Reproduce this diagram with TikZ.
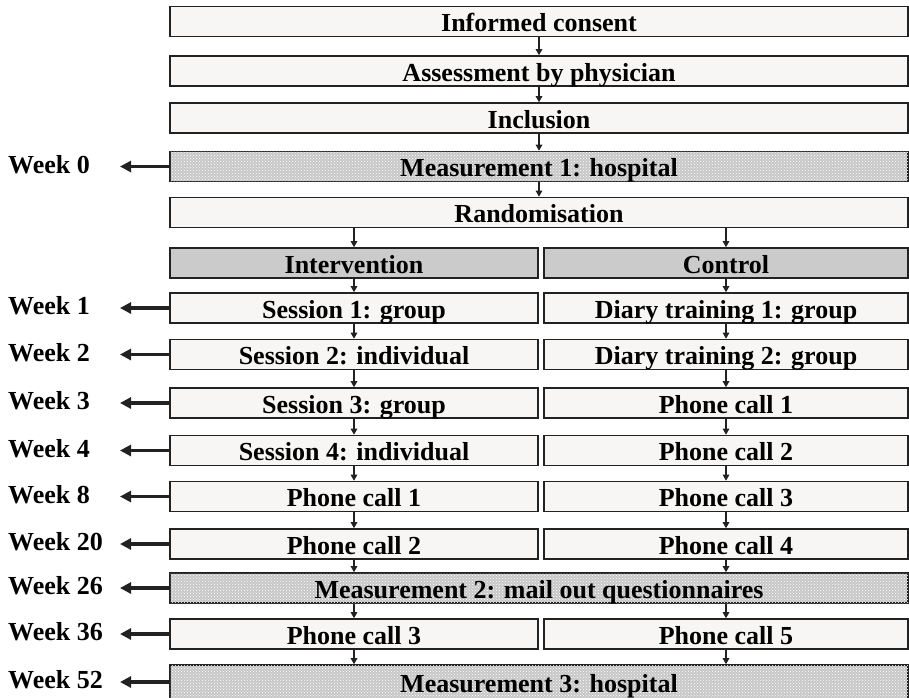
\documentclass[tikz,border=0pt]{standalone}
\usepackage{fontspec}
\setmainfont{Liberation Serif}
\usetikzlibrary{patterns,arrows.meta}
\definecolor{boxfill}{HTML}{F7F6F4}
\definecolor{headfill}{HTML}{CBCBCB}
\definecolor{edgecol}{HTML}{222222}
\begin{document}
\begin{tikzpicture}[x=1pt,y=-1pt,
  box/.style={draw=edgecol,line width=1.6pt,fill=boxfill,inner sep=0pt,
    minimum height=30pt,text height=20pt,text depth=0pt,
    font=\fontsize{26}{30}\selectfont\bfseries,text=black},
  full/.style={box,minimum width=738pt},
  lcol/.style={box,minimum width=368pt},
  rcol/.style={box,minimum width=364pt},
  head/.style={fill=headfill},
  meas/.style={fill=black!22,postaction={pattern=crosshatch dots,pattern color=white}},
  weeklab/.style={anchor=west,inner sep=0pt,text height=13pt,text depth=0pt,
    font=\fontsize{26}{30}\selectfont\bfseries,text=black},
  darr/.style={draw=edgecol,line width=1.3pt,-{Triangle[length=6pt,width=6.5pt]}},
  warr/.style={draw=edgecol,line width=3.4pt,-{Triangle[length=11pt,width=11pt]}}
]
\useasboundingbox (0,0) rectangle (909,697);

% full-width rows
\node[full] (ic) at (539,21.5) {Informed consent};
\node[full] (ab) at (539,71) {Assessment by physician};
\node[full] (inc) at (539,118) {Inclusion};
\node[full,meas] (m1) at (539,166.5) {Measurement 1: hospital};
\node[full] (rand) at (539,212.5) {Randomisation};

% two columns
\node[lcol,head] (int) at (354,263) {Intervention};
\node[rcol,head] (ctl) at (726,263) {Control};
\node[lcol] (s1) at (354,308) {Session 1: group};
\node[rcol] (d1) at (726,308) {Diary training 1: group};
\node[lcol] (s2) at (354,354.5) {Session 2: individual};
\node[rcol] (d2) at (726,354.5) {Diary training 2: group};
\node[lcol] (s3) at (354,403) {Session 3: group};
\node[rcol] (r1) at (726,403) {Phone call 1};
\node[lcol] (s4) at (354,450.5) {Session 4: individual};
\node[rcol] (r2) at (726,450.5) {Phone call 2};
\node[lcol] (l1) at (354,496.5) {Phone call 1};
\node[rcol] (r3) at (726,496.5) {Phone call 3};
\node[lcol] (l2) at (354,544) {Phone call 2};
\node[rcol] (r4) at (726,544) {Phone call 4};
\node[full,meas] (m2) at (539,588) {Measurement 2: mail out questionnaires};
\node[lcol] (l3) at (354,634) {Phone call 3};
\node[rcol] (r5) at (726,634) {Phone call 5};
\node[full,meas,minimum height=34pt] (m3) at (539,682) {Measurement 3: hospital};

% down arrows
\draw[darr] (ic) -- (ab);
\draw[darr] (ab) -- (inc);
\draw[darr] (inc) -- (m1);
\draw[darr] (m1) -- (rand);
\draw[darr] (rand.south -| int.north) -- (int);
\draw[darr] (rand.south -| ctl.north) -- (ctl);
\draw[darr] (int) -- (s1);
\draw[darr] (s1) -- (s2);
\draw[darr] (s2) -- (s3);
\draw[darr] (s3) -- (s4);
\draw[darr] (s4) -- (l1);
\draw[darr] (l1) -- (l2);
\draw[darr] (l2) -- (l2.south |- m2.north);
\draw[darr] (m2.south -| l3.north) -- (l3);
\draw[darr] (l3) -- (l3.south |- m3.north);
\draw[darr] (ctl) -- (d1);
\draw[darr] (d1) -- (d2);
\draw[darr] (d2) -- (r1);
\draw[darr] (r1) -- (r2);
\draw[darr] (r2) -- (r3);
\draw[darr] (r3) -- (r4);
\draw[darr] (r4) -- (r4.south |- m2.north);
\draw[darr] (m2.south -| r5.north) -- (r5);
\draw[darr] (r5) -- (r5.south |- m3.north);

% week labels and arrows
\foreach \b/\w/\t in {m1/w0/Week 0, s1/w1/Week 1, s2/w2/Week 2, s3/w3/Week 3,
  s4/w4/Week 4, l1/w8/Week 8, l2/w20/Week 20, m2/w26/Week 26, l3/w36/Week 36, m3/w52/Week 52}{
  \node[weeklab] (\w) at (8,0 |- \b.west) {\t};
  \coordinate (\w tip) at (120,0 |- \b.west);
  \draw[warr] (\b.west) -- (\w tip);
}
\end{tikzpicture}
\end{document}
